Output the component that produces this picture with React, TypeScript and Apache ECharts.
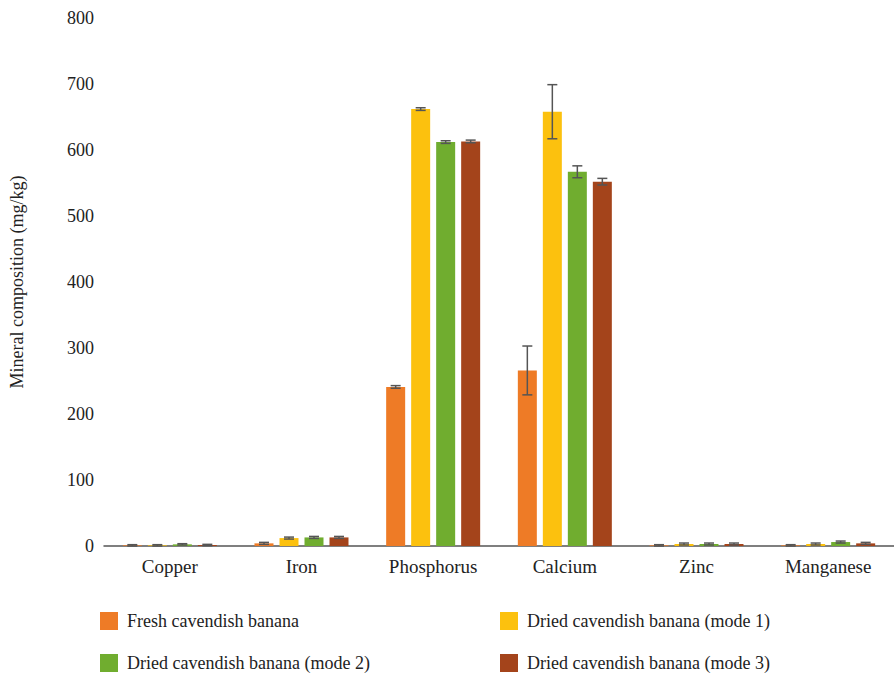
import React, { useEffect, useRef } from "react";
import * as echarts from "echarts";

const categories = ["Copper", "Iron", "Phosphorus", "Calcium", "Zinc", "Manganese"];
const seriesNames = [
  "Fresh cavendish banana",
  "Dried cavendish banana (mode 1)",
  "Dried cavendish banana (mode 2)",
  "Dried cavendish banana (mode 3)",
];
const colors = ["#ee7b26", "#fcc10e", "#70ad2f", "#a4441b"];
const fresh = [1, 4, 241, 266, 1, 1];
const mode1 = [1, 12, 662, 658, 3, 3];
const mode2 = [2.5, 13, 612, 567, 3, 6];
const mode3 = [1.5, 13, 613, 552, 3, 4];
const freshErr = [1, 1.5, 2, 37, 1, 1];
const mode1Err = [1, 1.5, 2, 41, 1.5, 1.5];
const mode2Err = [1, 1.5, 2, 9, 1.5, 1.5];
const mode3Err = [1, 1.5, 2, 5, 1.5, 1.5];
const values = [fresh, mode1, mode2, mode3];
const errors = [freshErr, mode1Err, mode2Err, mode3Err];

const BAR_W = 19;
const GAP = 6;
const font = "'Liberation Serif', 'DejaVu Serif', serif";

const App = () => {
  const chartRef = useRef(null);

  useEffect(() => {
    const chart = echarts.init(chartRef.current, null, { renderer: "svg" });

    const bars = values.map((v, i) => ({
      name: seriesNames[i],
      type: "bar",
      data: v,
      barWidth: BAR_W,
      barGap: (GAP / BAR_W) * 100 + "%",
      itemStyle: { color: colors[i] },
    }));

    const errSeries = values.map((v, i) => ({
      type: "custom",
      name: "err" + i,
      z: 10,
      data: v.map((val, j) => [j, val - errors[i][j], val + errors[i][j]]),
      renderItem: (params: any, api: any) => {
        const off = (i - 1.5) * (BAR_W + GAP);
        const lo = api.coord([api.value(0), api.value(1)]);
        const hi = api.coord([api.value(0), api.value(2)]);
        const x = lo[0] + off;
        const style = { stroke: "#555", lineWidth: 1.5 };
        return {
          type: "group",
          children: [
            { type: "line", shape: { x1: x, y1: lo[1], x2: x, y2: hi[1] }, style },
            { type: "line", shape: { x1: x - 5, y1: lo[1], x2: x + 5, y2: lo[1] }, style },
            { type: "line", shape: { x1: x - 5, y1: hi[1], x2: x + 5, y2: hi[1] }, style },
          ],
        };
      },
    }));

    const legendBase = {
      orient: "vertical",
      padding: 0,
      itemWidth: 18,
      itemHeight: 18,
      itemGap: 24,
      icon: "rect",
      textStyle: { fontFamily: font, fontSize: 18, color: "#222", padding: [0, 0, 0, 4] },
    };

    chart.setOption({
      animation: false,
      grid: { left: 99, right: 0, top: 18, bottom: 134 },
      legend: [
        { ...legendBase, left: 100, top: 612, data: [seriesNames[0], seriesNames[2]] },
        { ...legendBase, left: 500, top: 612, data: [seriesNames[1], seriesNames[3]] },
      ],
      xAxis: {
        type: "category",
        data: categories,
        axisLine: { lineStyle: { color: "#555", width: 1.5 } },
        axisTick: { show: false },
        axisLabel: { fontFamily: font, fontSize: 19, color: "#222", margin: 11 },
      },
      yAxis: {
        type: "value",
        min: 0,
        max: 800,
        interval: 100,
        name: "Mineral composition (mg/kg)",
        nameLocation: "middle",
        nameGap: 78,
        nameTextStyle: { fontFamily: font, fontSize: 18, color: "#222" },
        axisLine: { show: false },
        axisTick: { show: false },
        splitLine: { show: false },
        axisLabel: { fontFamily: font, fontSize: 18, color: "#222", margin: 10 },
      },
      series: [...bars, ...errSeries],
    });

    return () => chart.dispose();
  }, []);

  return (
    <div
      ref={chartRef}
      style={{ position: "absolute", left: 0, top: 0, width: 894, height: 680 }}
    />
  );
};

export default App;
